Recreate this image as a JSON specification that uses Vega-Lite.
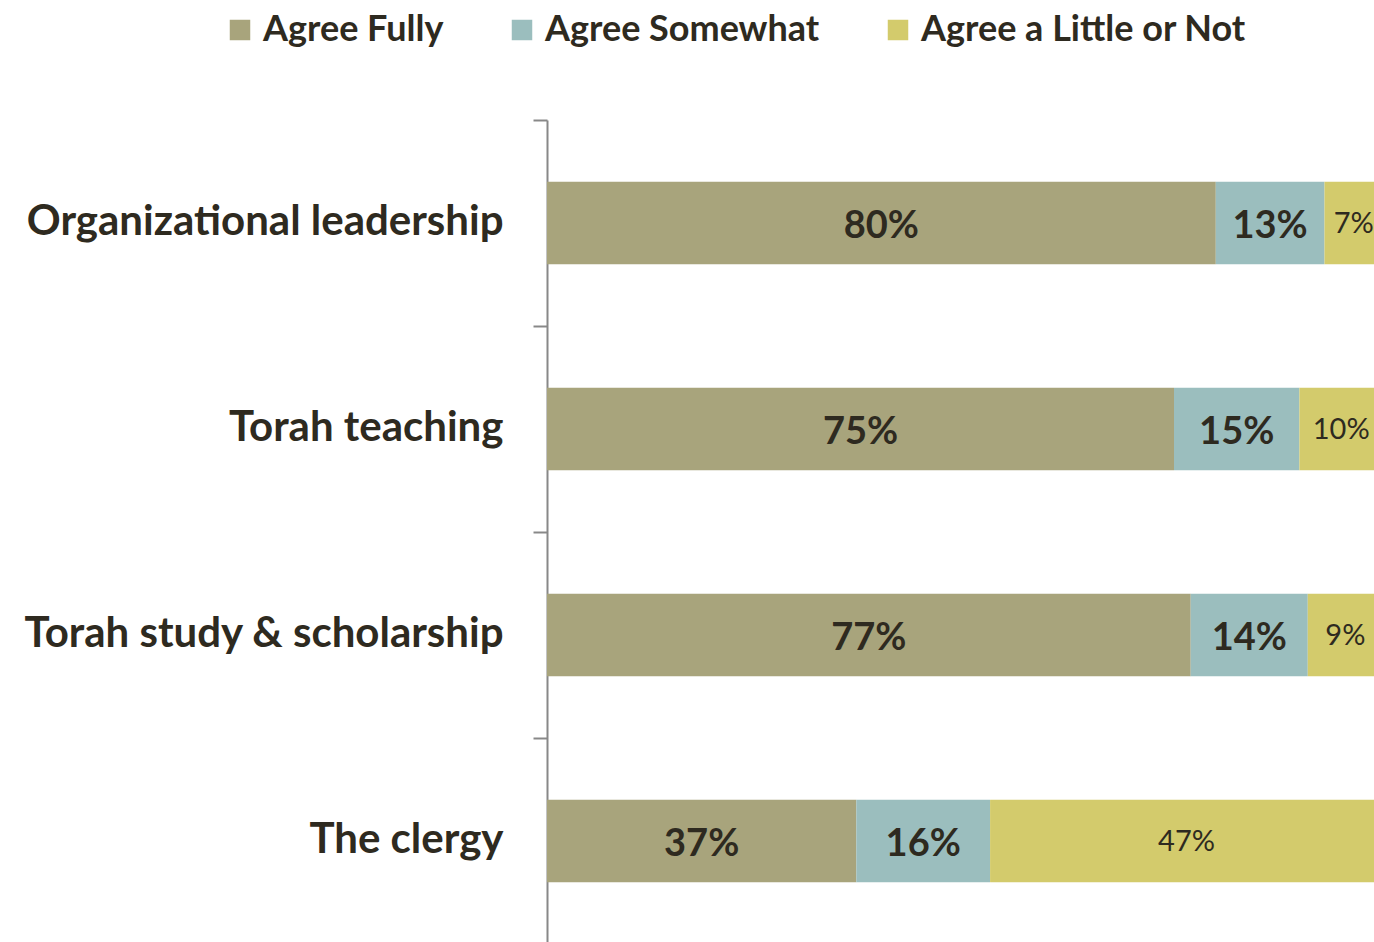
{
  "$schema": "https://vega.github.io/schema/vega-lite/v6.json",
  "autosize": "none",
  "width": 836,
  "height": 824,
  "padding": {"left": 547, "top": 120, "right": 0, "bottom": 0},
  "background": "white",
  "config": {"font": "Lato", "view": {"stroke": null}},
  "data": {"values": [
    {"category": "Organizational leadership", "segment": "Agree Fully", "value": 0.80},
    {"category": "Organizational leadership", "segment": "Agree Somewhat", "value": 0.13},
    {"category": "Organizational leadership", "segment": "Agree a Little or Not", "value": 0.07},
    {"category": "Torah teaching", "segment": "Agree Fully", "value": 0.75},
    {"category": "Torah teaching", "segment": "Agree Somewhat", "value": 0.15},
    {"category": "Torah teaching", "segment": "Agree a Little or Not", "value": 0.10},
    {"category": "Torah study & scholarship", "segment": "Agree Fully", "value": 0.77},
    {"category": "Torah study & scholarship", "segment": "Agree Somewhat", "value": 0.14},
    {"category": "Torah study & scholarship", "segment": "Agree a Little or Not", "value": 0.09},
    {"category": "The clergy", "segment": "Agree Fully", "value": 0.37},
    {"category": "The clergy", "segment": "Agree Somewhat", "value": 0.16},
    {"category": "The clergy", "segment": "Agree a Little or Not", "value": 0.47}
  ]},
  "transform": [
    {"stack": "value", "groupby": ["category"], "sort": [{"field": "segment", "order": "ascending"}], "as": ["v0", "v1"]}
  ],
  "encoding": {
    "y": {
      "field": "category", "type": "nominal",
      "sort": ["Organizational leadership", "Torah teaching", "Torah study & scholarship", "The clergy"],
      "scale": {"paddingInner": 0.6, "paddingOuter": 0.3},
      "axis": {
        "title": null,
        "domainColor": "#888888", "domainWidth": 2,
        "tickColor": "#888888", "tickWidth": 2, "tickSize": 14,
        "bandPosition": 0, "tickOffset": -62, "labelOffset": 60,
        "labelFontSize": 42, "labelFontWeight": "bold", "labelColor": "#2E2A20",
        "labelPadding": 30, "labelLimit": 0
      }
    }
  },
  "layer": [
    {
      "mark": {"type": "bar"},
      "encoding": {
        "x": {"field": "v0", "type": "quantitative", "scale": {"domain": [0, 1]}, "axis": null},
        "x2": {"field": "v1"},
        "color": {
          "field": "segment", "type": "nominal",
          "scale": {"domain": ["Agree Fully", "Agree Somewhat", "Agree a Little or Not"], "range": ["#A8A47C", "#9BBEBE", "#D3CB6C"]},
          "legend": {
            "orient": "none", "legendX": -325, "legendY": -108, "direction": "horizontal",
            "title": null, "symbolType": "square", "symbolSize": 420, "symbolStrokeWidth": 0, "symbolOpacity": 1,
            "labelFontSize": 36, "labelFontWeight": "bold", "labelColor": "#2E2A20",
            "columnPadding": 60, "labelOffset": 5, "labelLimit": 0
          }
        }
      }
    },
    {
      "transform": [
        {"fold": ["v0", "v1"], "as": ["edge", "pos"]},
        {"aggregate": [{"op": "mean", "field": "pos", "as": "mid"}], "groupby": ["category", "segment", "value"]},
        {"filter": "datum.segment != 'Agree a Little or Not'"}
      ],
      "mark": {"type": "text", "fontWeight": "bold", "fontSize": 38, "color": "#2E2A20", "baseline": "middle", "align": "center", "dy": 4},
      "encoding": {
        "x": {"field": "mid", "type": "quantitative"},
        "text": {"field": "value", "type": "quantitative", "format": ".0%"}
      }
    },
    {
      "transform": [
        {"fold": ["v0", "v1"], "as": ["edge", "pos"]},
        {"aggregate": [{"op": "mean", "field": "pos", "as": "mid"}], "groupby": ["category", "segment", "value"]},
        {"filter": "datum.segment == 'Agree a Little or Not'"}
      ],
      "mark": {"type": "text", "fontWeight": "normal", "fontSize": 29, "color": "#2E2A20", "baseline": "middle", "align": "center", "dy": 1},
      "encoding": {
        "x": {"field": "mid", "type": "quantitative"},
        "text": {"field": "value", "type": "quantitative", "format": ".0%"}
      }
    }
  ]
}
